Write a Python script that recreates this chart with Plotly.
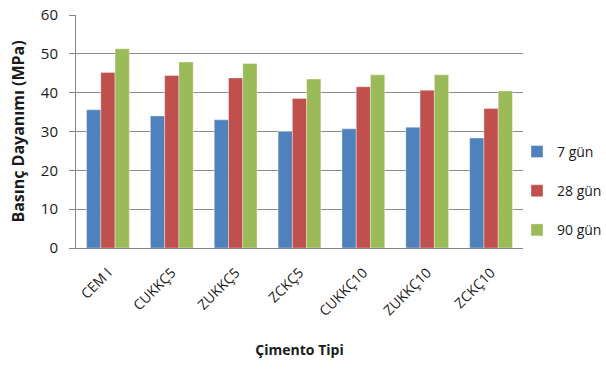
import plotly.graph_objects as go

# Cement types and compressive strength (MPa) at each curing age
cement_types = ["CEM I", "CUKKÇ5", "ZUKKÇ5", "ZCKÇ5", "CUKKÇ10", "ZUKKÇ10", "ZCKÇ10"]
strength_7 = [35.6, 34.0, 33.0, 30.0, 30.7, 31.1, 28.3]
strength_28 = [45.2, 44.4, 43.8, 38.5, 41.5, 40.6, 35.9]
strength_90 = [51.3, 47.9, 47.5, 43.5, 44.6, 44.6, 40.4]

series_names = ["7 gün", "28 gün", "90 gün"]
series_colors = ["#4F81BD", "#C0504D", "#9BBB59"]
series_values = [strength_7, strength_28, strength_90]

FONT = "Open Sans, Carlito, Calibri, sans-serif"

fig = go.Figure()
for i, (name, color, vals) in enumerate(zip(series_names, series_colors, series_values)):
    fig.add_trace(go.Bar(
        x=cement_types,
        y=vals,
        name=name,
        legendgroup=f"g{i}",
        marker=dict(color=color, line=dict(color="rgba(255,255,255,0.6)", width=0.6)),
    ))

fig.update_layout(
    width=606,
    height=370,
    margin=dict(l=76, r=83, t=15, b=122, autoexpand=False),
    paper_bgcolor="white",
    plot_bgcolor="white",
    barmode="group",
    bargap=0.33,
    bargroupgap=0,
    font=dict(family=FONT, size=14, color="#1a1a1a"),
    legend=dict(
        x=0.9866, y=0.245, xanchor="left", yanchor="middle",
        font=dict(family=FONT, size=14, color="#1a1a1a"),
        tracegroupgap=18,
        itemwidth=30,
        bgcolor="rgba(0,0,0,0)",
    ),
    xaxis=dict(
        tickangle=-45,
        showline=True,
        linecolor="#868686",
        linewidth=1,
        ticks="",
        ticklabelstandoff=10,
        showgrid=False,
        tickfont=dict(family=FONT, size=14),
        title=dict(text="<b>Çimento Tipi</b>", font=dict(family=FONT, size=14), standoff=26),
    ),
    yaxis=dict(
        range=[0, 60],
        dtick=10,
        showgrid=True,
        gridcolor="#8c8c8c",
        gridwidth=1,
        showline=True,
        linecolor="#868686",
        linewidth=1,
        ticks="outside",
        ticklen=6,
        tickcolor="#868686",
        ticklabelstandoff=8,
        tickfont=dict(family=FONT, size=15),
        zeroline=False,
        title=dict(text="<b>Basınç Dayanımı (MPa)</b>", font=dict(family=FONT, size=16), standoff=12),
    ),
)

fig.write_html("out.html")
